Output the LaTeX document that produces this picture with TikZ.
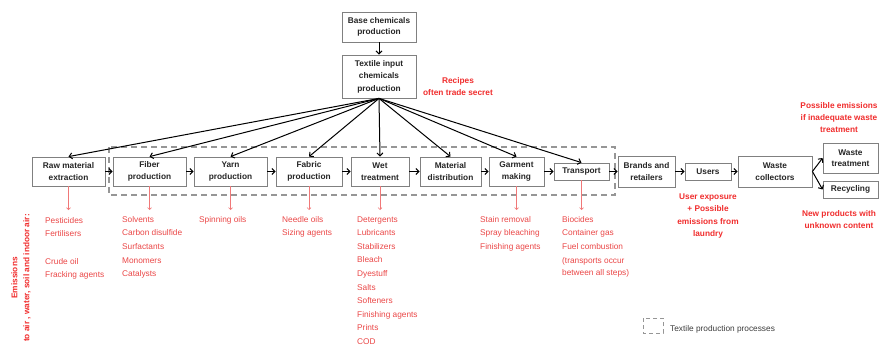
\documentclass[tikz,border=0pt]{standalone}
\usepackage{fontspec}
\setmainfont{Liberation Sans}
\usetikzlibrary{arrows.meta}
\definecolor{boxgray}{RGB}{128,128,128}
\definecolor{dashgray}{RGB}{150,150,150}
\definecolor{hotred}{RGB}{240,45,45}
\definecolor{listred}{RGB}{234,70,70}
\definecolor{arrred}{RGB}{240,120,120}
\definecolor{legtext}{RGB}{60,60,60}
\begin{document}
\begin{tikzpicture}[x=1pt,y=-1pt,
  box/.style={draw=boxgray, line width=0.8pt, fill=white, inner sep=0pt, align=center,
    font=\fontsize{8.3}{11.5}\selectfont\bfseries, text=black!85},
  flow/.style={black, line width=1pt, -{Straight Barb[length=3pt,width=6pt]}},
  redarr/.style={arrred, line width=0.6pt, -{Straight Barb[length=2pt,width=4pt]}},
  note/.style={text=hotred, align=center, inner sep=0pt, font=\fontsize{8.3}{12}\selectfont\bfseries},
  lst/.style={text=listred, inner sep=0pt, anchor=base west, font=\fontsize{8.3}{10}\selectfont}]
\useasboundingbox (0,0) rectangle (879,345);

% dashed frame of textile production processes
\draw[dashgray, line width=1.1pt, dash pattern=on 6pt off 4pt] (109,147) rectangle (615,195);

% top boxes
\node[box, minimum width=74pt, minimum height=30pt] (base) at (379,27) {Base chemicals\\production};
\node[box, minimum width=74pt, minimum height=43pt, font=\fontsize{8.3}{12.5}\selectfont\bfseries] (textile) at (379,76.5) {Textile input\\chemicals\\production};

% main row
\node[box, minimum width=73pt, minimum height=29pt] (raw) at (68.5,171.5) {Raw material\\extraction};
\node[box, minimum width=73pt, minimum height=29pt] (fiber) at (149.5,171.5) {Fiber\\production};
\node[box, minimum width=73pt, minimum height=29pt] (yarn) at (230.5,171.5) {Yarn\\production};
\node[box, minimum width=66pt, minimum height=29pt] (fabric) at (309,171.5) {Fabric\\production};
\node[box, minimum width=58pt, minimum height=29pt] (wet) at (380,171.5) {Wet\\treatment};
\node[box, minimum width=61pt, minimum height=29pt] (matdist) at (450.5,171.5) {Material\\distribution};
\node[box, minimum width=55pt, minimum height=29pt] (garment) at (516.5,171.5) {Garment\\making};
\node[box, minimum width=55pt, minimum height=17pt] (transport) at (581.5,171.5) {Transport};
\node[box, minimum width=57pt, minimum height=31pt] (brands) at (646.5,171.5) {Brands and\\retailers};
\node[box, minimum width=46pt, minimum height=17pt] (users) at (708,171.5) {Users};
\node[box, minimum width=74pt, minimum height=31pt] (collect) at (775,171.5) {Waste\\collectors};
\node[box, minimum width=55pt, minimum height=30pt] (wtreat) at (850.5,158) {Waste\\treatment};
\node[box, minimum width=55pt, minimum height=17pt] (recyc) at (850.5,189.5) {Recycling};

% arrows
\draw[flow] (base) -- (textile);
\foreach \n in {raw,fiber,yarn,fabric,wet,matdist,garment,transport}
  \draw[flow] (textile.south) -- (\n.north);
\draw[flow] (raw) -- (fiber);
\draw[flow] (fiber) -- (yarn);
\draw[flow] (yarn) -- (fabric);
\draw[flow] (fabric) -- (wet);
\draw[flow] (wet) -- (matdist);
\draw[flow] (matdist) -- (garment);
\draw[flow] (garment) -- (transport);
\draw[flow] (transport) -- (brands);
\draw[flow] (brands) -- (users);
\draw[flow] (users) -- (collect);
\draw[flow] (collect.east) -- (wtreat.west);
\draw[flow] (collect.east) -- (recyc.west);

% emission arrows
\coordinate (redend) at (0,210);
\foreach \n in {raw,fiber,yarn,fabric,wet,garment,transport}
  \draw[redarr] (\n.south) -- (\n.south |- redend);

% notes
\node[note] (recipes) at (458,86.5) {Recipes\\often trade secret};
\node[note] (posemis) at (839,117.5) {Possible emissions\\if inadequate waste\\treatment};
\node[note] (newprod) at (839,220) {New products with\\unknown content};
\node[note, font=\fontsize{8.3}{12.6}\selectfont\bfseries] (userexp) at (708,216) {User exposure\\+ Possible\\emissions from\\laundry};
\node[note, rotate=90] (emisside) at (21,278) {Emissions\\to air , water, soil and indoor air:};

% lists
\foreach \t [count=\i] in {Pesticides, Fertilisers}
  \node[lst] (rawa\i) at (45,{223+13.7*(\i-1)}) {\t};
\foreach \t [count=\i] in {Crude oil, Fracking agents}
  \node[lst] (rawb\i) at (45,{264+13.7*(\i-1)}) {\t};
\foreach \t [count=\i] in {Solvents, Carbon disulfide, Surfactants, Monomers, Catalysts}
  \node[lst] (fib\i) at (122,{222+13.7*(\i-1)}) {\t};
\node[lst] (yar1) at (199,222) {Spinning oils};
\foreach \t [count=\i] in {Needle oils, Sizing agents}
  \node[lst] (fab\i) at (282,{222+13.7*(\i-1)}) {\t};
\foreach \t [count=\i] in {Detergents, Lubricants, Stabilizers, Bleach, Dyestuff, Salts, Softeners, Finishing agents, Prints, COD}
  \node[lst] (wetl\i) at (357,{222+13.62*(\i-1)}) {\t};
\foreach \t [count=\i] in {Stain removal, Spray bleaching, Finishing agents}
  \node[lst] (gar\i) at (480,{222+13.7*(\i-1)}) {\t};
\foreach \t [count=\i] in {Biocides, Container gas, Fuel combustion}
  \node[lst] (tra\i) at (562,{222+13.7*(\i-1)}) {\t};
\node[lst] (tra4) at (562,263) {(transports occur};
\node[lst] (tra5) at (562,275) {between all steps)};

% legend
\draw[dashgray, line width=0.9pt, dash pattern=on 4pt off 3pt] (643,318) rectangle (663,333);
\node[anchor=base west, inner sep=0pt, text=legtext, font=\fontsize{8.3}{10}\selectfont] (legtxt) at (670,331) {Textile production processes};
\end{tikzpicture}
\end{document}
